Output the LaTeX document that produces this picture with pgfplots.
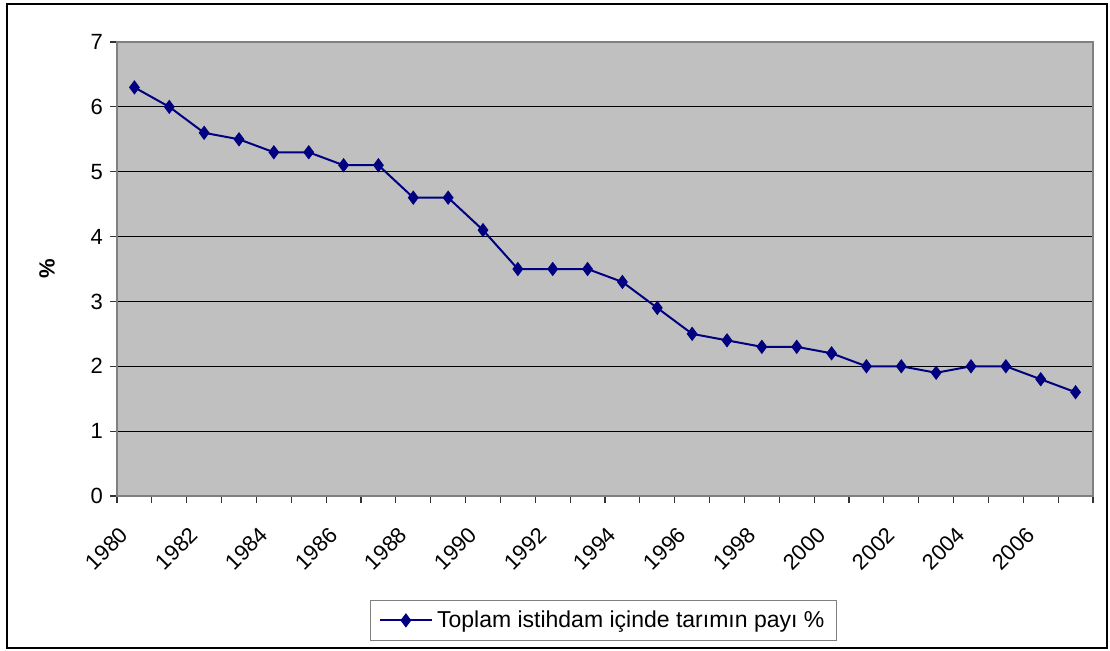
\documentclass[border=0pt]{standalone}
\usepackage{fontspec}
\setmainfont{Liberation Sans}
\usepackage{pgfplots}
\pgfplotsset{compat=1.18}
\definecolor{bggray}{RGB}{192,192,192}
\definecolor{navyline}{RGB}{0,0,128}
\definecolor{framegray}{RGB}{128,128,128}
\begin{document}
\begin{tikzpicture}
\useasboundingbox (0,0) rectangle (555pt,325pt);
\draw[black, line width=1pt] (3.5pt,1pt) rectangle (553.5pt,323pt);
\begin{axis}[
  at={(58.5pt,77pt)}, anchor=south west,
  scale only axis, width=488pt, height=227pt,
  xmin=-0.5, xmax=27.5, ymin=0, ymax=7,
  ytick={0,1,...,7},
  xtick={-0.45,1.55,...,25.6},
  xticklabels={1980,1982,1984,1986,1988,1990,1992,1994,1996,1998,2000,2002,2004,2006},
  minor xtick={-0.5,0.5,...,27.5},
  major x tick style={draw=none},
  minor tick length=3.5pt, major tick length=3.5pt,
  tick align=outside,
  tick style={black!80, line width=0.6pt},
  xtick pos=bottom, ytick pos=left,
  ymajorgrids, grid style={black, line width=0.5pt},
  axis background/.style={fill=bggray},
  axis line style={framegray, line width=1pt},
  /pgf/number format/assume math mode=true,
  ticklabel style={font=\fontsize{11}{13}\selectfont},
  xticklabel style={rotate=45, anchor=north east, inner sep=0pt},
  xticklabel shift=11pt,
  ylabel={\textbf{\%}},
  ylabel style={at={(axis description cs:-0.0717,0.5)}, anchor=center, rotate=0, font=\fontsize{11}{13}\selectfont},
  legend style={at={(0.4985,-0.274)}, anchor=center, draw=framegray, line width=0.5pt, fill=white,
    font=\fontsize{11.5}{13}\selectfont, inner xsep=4pt, inner ysep=3pt},
  legend image code/.code={\draw[mark repeat=2,mark phase=2,#1] plot coordinates {(0cm,0cm) (0.46cm,0cm) (0.92cm,0cm)};},
]
\addplot[navyline, line width=1pt, mark=diamond*, mark size=3.2pt, mark options={fill=navyline, draw=navyline, line width=0.5pt}]
coordinates {
(0,6.3) (1,6.0) (2,5.6) (3,5.5) (4,5.3) (5,5.3) (6,5.1) (7,5.1) (8,4.6) (9,4.6)
(10,4.1) (11,3.5) (12,3.5) (13,3.5) (14,3.3) (15,2.9) (16,2.5) (17,2.4) (18,2.3) (19,2.3)
(20,2.2) (21,2.0) (22,2.0) (23,1.9) (24,2.0) (25,2.0) (26,1.8) (27,1.6)
};
\addlegendentry{Toplam istihdam içinde tarımın payı \%}
\end{axis}
\end{tikzpicture}
\end{document}
